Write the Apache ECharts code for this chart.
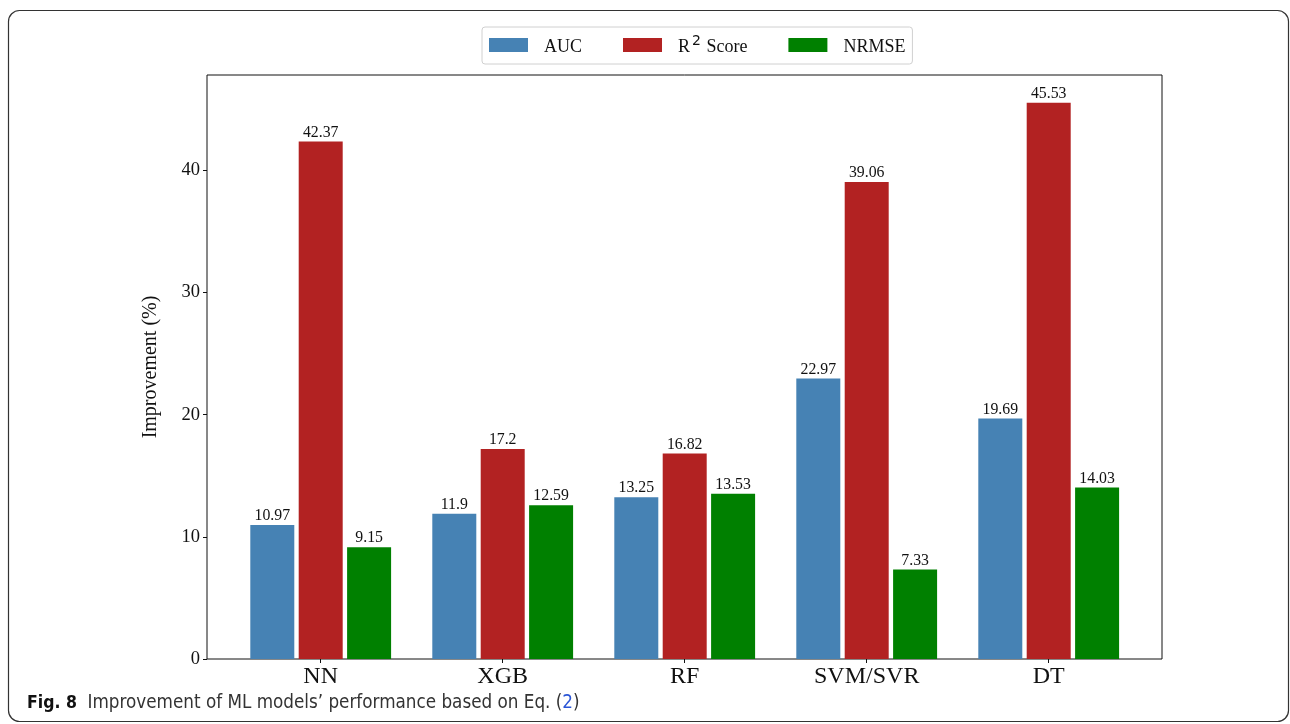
<!DOCTYPE html>
<html>
<head>
<meta charset="utf-8">
<script src="https://cdn.jsdelivr.net/npm/echarts@6/dist/echarts.min.js"></script>
<style>
html, body { margin: 0; padding: 0; background: #fff; }
#chart { width: 1290px; height: 724px; }
</style>
</head>
<body>
<div id="chart"></div>
<script>
// Improvement (%) of each ML model per metric
const models = ['NN', 'XGB', 'RF', 'SVM/SVR', 'DT'];
const aucGain = [10.97, 11.9, 13.25, 22.97, 19.69];
const r2Gain = [42.37, 17.2, 16.82, 39.06, 45.53];
const nrmseGain = [9.15, 12.59, 13.53, 7.33, 14.03];
const yTicks = [0, 10, 20, 30, 40];
const seriesNames = ['AUC', 'R² Score', 'NRMSE'];

const SERIF = '"Liberation Serif", "Times New Roman", serif';
const CAPTION_FONT = '"DejaVu Sans Condensed", "Open Sans", sans-serif';
const Y_MAX = 47.81;

const chart = echarts.init(document.getElementById('chart'), null, { renderer: 'canvas' });

function barSeries(name, data, color) {
  return {
    type: 'bar',
    name: name,
    xAxisIndex: 1,
    yAxisIndex: 1,
    data: data,
    barWidth: 44,
    barGap: '10%',
    itemStyle: { color: color },
    emphasis: { disabled: true },
    label: {
      show: true,
      position: 'top',
      distance: 1,
      fontFamily: SERIF,
      fontSize: 15.8,
      color: '#111'
    }
  };
}

chart.setOption({
  animation: false,
  backgroundColor: '#fff',
  legend: {
    top: 27,
    left: 482,
    padding: [7, 7, 8, 7],
    borderColor: '#d0d0d0',
    borderWidth: 1,
    borderRadius: 3,
    itemWidth: 39,
    itemHeight: 14,
    itemGap: 41,
    icon: 'rect',
    data: seriesNames,
    formatter: function (n) {
      return n === 'R² Score' ? '{t|R}{s|2}{t| Score}' : '{t|' + n + '}';
    },
    textStyle: {
      padding: [0, 0, 0, 11],
      color: '#111',
      rich: {
        t: { fontFamily: SERIF, fontSize: 18, color: '#111', verticalAlign: 'bottom', lineHeight: 22 },
        s: { fontFamily: '"DejaVu Sans", sans-serif', fontSize: 14, color: '#111', verticalAlign: 'top', lineHeight: 16, padding: [0, 1, 0, 2] }
      }
    }
  },
  grid: [
    // plot frame with the value axis
    { left: 207, right: 128, top: 75, bottom: 65, show: true, borderColor: '#111', borderWidth: 1, backgroundColor: 'transparent', containLabel: false },
    // bar band area
    { left: 229.7, right: 150.3, top: 75, bottom: 65, containLabel: false }
  ],
  xAxis: [
    { type: 'value', gridIndex: 0, show: false, min: 0, max: 1 },
    {
      type: 'category',
      gridIndex: 1,
      data: models,
      axisLine: { show: false },
      axisTick: { show: true, alignWithLabel: true, length: 4, lineStyle: { color: '#111' } },
      axisLabel: { fontFamily: SERIF, fontSize: 24, color: '#111', margin: 6 },
      splitLine: { show: false }
    }
  ],
  yAxis: [
    {
      type: 'value',
      gridIndex: 0,
      min: 0,
      max: Y_MAX,
      interval: 10,
      name: 'Improvement (%)',
      nameLocation: 'middle',
      nameGap: 46,
      nameTextStyle: { fontFamily: SERIF, fontSize: 20, color: '#111' },
      axisLine: { show: false },
      axisTick: { show: true, length: 4, lineStyle: { color: '#111' }, customValues: yTicks },
      axisLabel: { fontFamily: SERIF, fontSize: 18.5, color: '#111', margin: 7, customValues: yTicks },
      splitLine: { show: false }
    },
    { type: 'value', gridIndex: 1, min: 0, max: Y_MAX, show: false, splitLine: { show: false } }
  ],
  series: [
    barSeries(seriesNames[0], aucGain, '#4682b4'),
    barSeries(seriesNames[1], r2Gain, '#b22222'),
    barSeries(seriesNames[2], nrmseGain, '#008000')
  ],
  graphic: [
    {
      type: 'rect',
      silent: true,
      shape: { x: 8.5, y: 10.5, width: 1280, height: 711, r: 11 },
      style: { fill: 'none', stroke: '#333', lineWidth: 1.2 }
    },
    {
      type: 'text',
      silent: true,
      left: 27,
      top: 694,
      style: {
        text: '{b|Fig. 8}{r|  Improvement of ML models’ performance based on Eq. (}{l|2}{r|)}',
        rich: {
          b: { fontFamily: CAPTION_FONT, fontWeight: 'bold', fontSize: 17.5, fill: '#111' },
          r: { fontFamily: CAPTION_FONT, fontSize: 18.7, fill: '#333' },
          l: { fontFamily: CAPTION_FONT, fontSize: 18.7, fill: '#2a55d6' }
        }
      }
    }
  ]
});
</script>
</body>
</html>
